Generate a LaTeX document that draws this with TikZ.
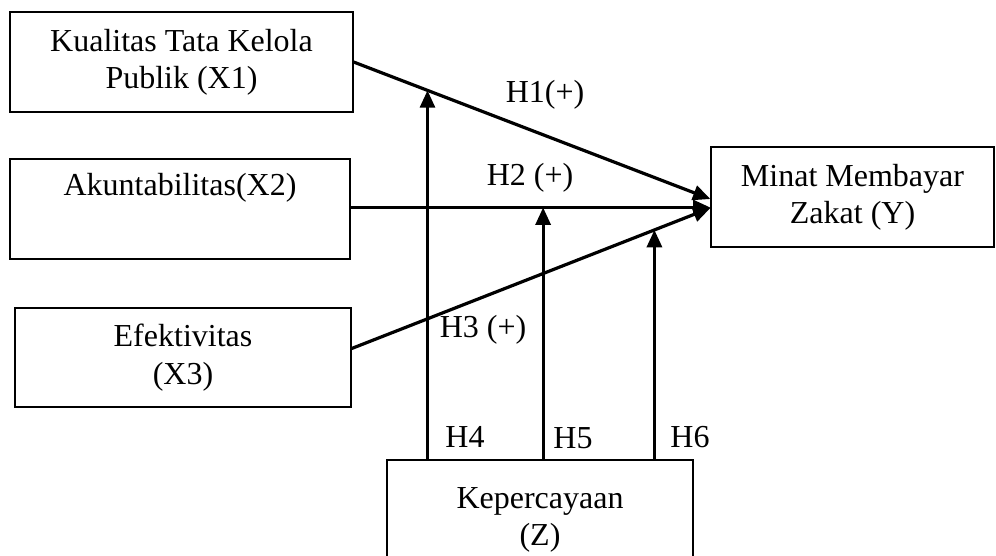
\documentclass[tikz,border=0pt]{standalone}
\usepackage{fontspec}
\setmainfont{Liberation Serif}
\usepackage{tikz}
\usetikzlibrary{arrows.meta,positioning,calc}

\begin{document}
\begin{tikzpicture}[x=0.375pt, y=-0.375pt,
    font=\fontsize{12}{14}\selectfont,
    box/.style={draw, line width=0.5pt, align=center, inner sep=0pt},
    arr/.style={line width=1.2pt, -{Triangle[length=6.5pt,width=5.6pt]}},
    lbl/.style={inner sep=0pt}]
  \useasboundingbox (0,0) rectangle (996,555);

  % Variables
  \node[box, minimum width=128.6pt, minimum height=37.5pt] (x1) at (181.5,62)
    {Kualitas Tata Kelola\\Publik (X1)};
  \node[box, minimum width=127.5pt, minimum height=37.5pt] (x2) at (180,209)
    {Akuntabilitas(X2)\\\strut};
  \node[box, minimum width=126pt, minimum height=37.1pt] (x3) at (183,357.5)
    {Efektivitas\\(X3)};
  \node[box, minimum width=106.1pt, minimum height=37.5pt] (y) at (852.5,197)
    {Minat Membayar\\Zakat (Y)};
  \node[box, minimum width=114.75pt, minimum height=45pt] (z) at (540,520)
    {Kepercayaan\\(Z)};

  % End points on Y
  \coordinate (s2) at ($(x2.east)+(0,-1.5)$);
  \coordinate (s3) at ($(x3.east)+(0,-9)$);
  \coordinate (t1) at ($(y.west)+(0,2)$);
  \coordinate (t2) at (s2 -| y.west);
  \coordinate (t3) at ($(y.west)+(0,11)$);

  % Direct paths
  \draw[arr] (x1.east) -- (t1);
  \draw[arr] (s2) -- (t2);
  \draw[arr] (s3) -- (t3);

  % Moderation by Z
  \coordinate (m1) at ($(x1.east)!0.207!(t1)$);
  \coordinate (m2) at ($(s2)!0.535!(t2)$);
  \coordinate (m3) at ($(s3)!0.844!(t3)$);
  \draw[arr] (z.north -| m1) -- (m1);
  \draw[arr] (z.north -| m2) -- (m2);
  \draw[arr] (z.north -| m3) -- (m3);

  % Labels
  \node[lbl] (h1) at (545,95) {H1(+)};
  \node[lbl] (h2) at (530,178) {H2 (+)};
  \node[lbl] (h3) at (483,330) {H3 (+)};
  \node[lbl] (h4) at (465,437) {H4};
  \node[lbl] (h5) at (573,438) {H5};
  \node[lbl] (h6) at (690,437) {H6};
\end{tikzpicture}
\end{document}
